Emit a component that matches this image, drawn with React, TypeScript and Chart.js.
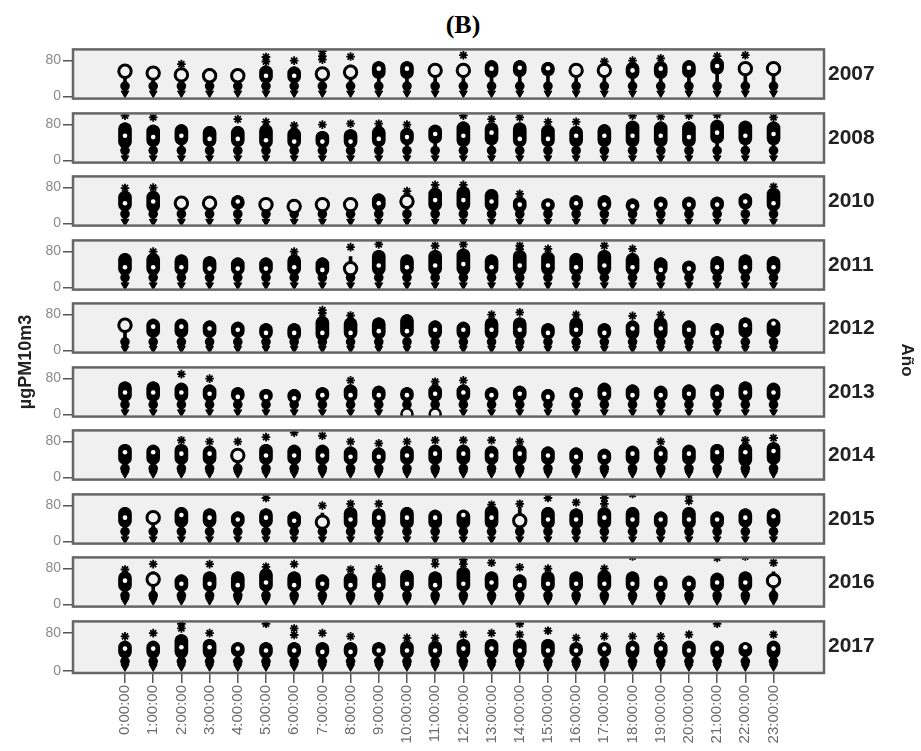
import React, { useEffect, useRef } from 'react';
import { Chart, registerables } from 'chart.js';

Chart.register(...registerables);

const hourLabels = ['0:00:00','1:00:00','2:00:00','3:00:00','4:00:00','5:00:00','6:00:00','7:00:00','8:00:00','9:00:00','10:00:00','11:00:00','12:00:00','13:00:00','14:00:00','15:00:00','16:00:00','17:00:00','18:00:00','19:00:00','20:00:00','21:00:00','22:00:00','23:00:00'];
const years = ['2007','2008','2010','2011','2012','2013','2014','2015','2016','2017'];
const yTicks = [0, 80];

// lower knob and lower tip of each column, per year
const knobs = [23,22,21,22,19,22,20,22,20,20];
const tips = [7,5,4,5,4,5,8,5,8,8];

const hi2007 = [68,64,60,62,58,68,66,62,70,78,78,70,70,80,80,76,70,70,76,78,80,86,74,74];
const lo2007 = [44,40,36,32,34,30,30,38,38,40,40,46,46,42,44,46,46,40,40,40,42,50,50,50];
const med2007 = [56,52,48,46,46,46,46,50,54,62,62,58,58,62,64,63,58,58,58,62,64,68,62,62];
const stars2007 = [[2,72],[5,78],[5,88],[6,80],[7,101],[7,90],[7,82],[8,89],[12,92],[17,78],[18,80],[19,85],[21,90],[22,92]];
const open2007 = [0,1,2,3,4,7,8,11,12,16,17,22,23];

const hi2008 = [84,79,80,76,76,80,72,65,69,76,72,79,86,84,84,79,76,80,88,86,86,90,88,86];
const lo2008 = [28,31,35,31,31,28,28,28,28,31,35,38,31,35,31,31,31,31,31,31,31,38,35,35];
const med2008 = [55,52,55,48,48,45,42,42,42,48,52,59,55,62,48,48,55,55,55,55,52,62,55,59];
const stars2008 = [[0,100],[1,96],[4,92],[5,86],[6,78],[7,80],[8,82],[9,82],[10,80],[12,100],[13,92],[14,96],[15,86],[16,86],[18,100],[19,98],[20,100],[21,102],[23,96]];
const open2008: number[] = [];

const hi2010 = [72,72,55,55,62,55,52,55,52,66,62,79,82,76,59,55,62,62,55,59,59,59,66,79];
const lo2010 = [28,25,35,35,32,32,32,32,32,28,32,28,28,28,25,28,28,28,25,28,28,28,32,28];
const med2010 = [45,49,45,45,49,42,38,42,42,45,49,52,52,49,42,42,45,42,38,42,42,42,49,45];
const stars2010 = [[0,79],[1,80],[10,72],[11,86],[12,86],[14,66],[23,82]];
const open2010 = [2,3,5,6,7,8,10];

const hi2011 = [76,76,73,69,66,66,73,66,69,83,73,83,86,73,83,79,76,83,76,66,59,69,73,69];
const lo2011 = [28,28,28,28,28,28,28,25,25,28,28,28,28,28,28,28,28,28,28,28,28,28,28,28];
const med2011 = [45,45,45,42,42,42,45,39,42,49,45,49,52,45,49,49,45,49,45,39,42,45,45,45];
const stars2011 = [[1,80],[6,80],[8,90],[9,96],[11,93],[12,96],[14,93],[14,85],[15,86],[17,93],[18,86]];
const open2011 = [8];

const hi2012 = [70,70,70,66,63,60,60,76,73,73,80,66,63,73,73,60,73,60,66,73,66,60,73,70];
const lo2012 = [29,29,29,29,29,26,22,22,26,26,29,26,26,26,26,26,29,26,26,26,26,26,29,29];
const med2012 = [56,53,53,49,46,39,39,39,39,43,43,46,46,46,46,39,46,39,49,49,46,39,56,60];
const stars2012 = [[7,90],[7,83],[8,78],[13,80],[14,85],[16,80],[18,77],[19,80]];
const open2012 = [0];

const hi2013 = [73,73,70,66,60,56,56,60,66,63,60,66,66,60,63,56,60,70,66,63,66,66,73,70];
const lo2013 = [29,29,29,29,29,29,26,29,29,29,29,29,29,29,29,26,29,29,29,29,29,29,29,29];
const med2013 = [49,49,49,46,39,39,36,43,43,43,43,46,49,43,46,39,43,46,43,43,46,46,49,49];
const stars2013 = [[2,90],[3,80],[8,76],[11,73],[12,76]];
const open2013: number[] = [];
const circles2013 = [[10,1],[11,1]];

const hi2014 = [74,72,74,70,63,74,72,72,68,66,70,72,72,70,72,68,66,63,70,70,72,74,76,78];
const lo2014 = [29,29,29,29,29,29,29,29,29,29,29,29,29,29,29,29,29,29,29,29,29,29,25,29];
const med2014 = [56,56,53,53,49,49,49,49,46,46,49,53,53,49,53,49,46,46,53,53,53,56,56,59];
const stars2014 = [[2,83],[3,80],[4,80],[5,90],[6,100],[7,93],[8,80],[9,76],[10,80],[11,83],[12,83],[13,83],[14,80],[19,80],[22,83],[23,88]];
const open2014 = [4];

const hi2015 = [76,66,76,73,66,73,66,63,76,73,76,70,70,80,76,76,73,76,76,66,76,66,73,73];
const lo2015 = [32,32,32,32,32,32,29,29,29,29,29,29,29,29,29,29,29,29,29,29,29,29,32,32];
const med2015 = [53,53,59,53,49,53,46,43,49,53,53,53,59,53,46,49,49,53,49,49,49,49,53,56];
const stars2015 = [[5,97],[7,80],[8,84],[9,84],[13,82],[14,84],[15,97],[16,87],[17,97],[17,84],[18,106],[20,104],[20,90]];
const open2015 = [1,7,14];

const hi2016 = [73,73,66,73,73,80,73,66,70,73,76,73,83,73,66,73,73,76,73,63,63,70,73,73];
const lo2016 = [29,29,29,29,26,29,29,29,29,29,29,29,29,29,29,29,29,29,29,29,29,29,29,29];
const med2016 = [53,56,46,46,43,49,43,46,43,43,46,43,46,49,43,46,46,46,46,46,46,49,49,53];
const stars2016 = [[0,78],[1,90],[3,90],[5,84],[6,90],[8,78],[9,80],[11,104],[11,90],[12,100],[12,90],[13,93],[14,83],[15,80],[17,80],[18,107],[21,104],[22,107],[23,93]];
const open2016 = [1,23];

const hi2017 = [63,63,77,67,60,60,60,60,60,60,63,63,67,67,67,67,60,60,63,63,63,63,60,63];
const lo2017 = [27,27,27,27,30,27,27,27,27,30,27,27,27,27,27,27,30,30,27,27,27,27,30,27];
const med2017 = [47,47,50,50,47,43,43,40,40,43,43,43,47,47,43,43,43,47,47,47,43,47,50,47];
const stars2017 = [[0,73],[1,80],[2,100],[2,90],[3,80],[5,100],[6,90],[6,76],[7,80],[8,73],[10,70],[11,70],[12,77],[13,80],[14,100],[14,77],[15,85],[16,70],[17,73],[18,73],[19,73],[20,77],[21,100],[23,77]];
const open2017: number[] = [];

const panels = [
  { hi: hi2007, lo: lo2007, med: med2007, stars: stars2007, open: open2007, circles: [] as number[][] },
  { hi: hi2008, lo: lo2008, med: med2008, stars: stars2008, open: open2008, circles: [] as number[][] },
  { hi: hi2010, lo: lo2010, med: med2010, stars: stars2010, open: open2010, circles: [] as number[][] },
  { hi: hi2011, lo: lo2011, med: med2011, stars: stars2011, open: open2011, circles: [] as number[][] },
  { hi: hi2012, lo: lo2012, med: med2012, stars: stars2012, open: open2012, circles: [] as number[][] },
  { hi: hi2013, lo: lo2013, med: med2013, stars: stars2013, open: open2013, circles: circles2013 },
  { hi: hi2014, lo: lo2014, med: med2014, stars: stars2014, open: open2014, circles: [] as number[][] },
  { hi: hi2015, lo: lo2015, med: med2015, stars: stars2015, open: open2015, circles: [] as number[][] },
  { hi: hi2016, lo: lo2016, med: med2016, stars: stars2016, open: open2016, circles: [] as number[][] },
  { hi: hi2017, lo: lo2017, med: med2017, stars: stars2017, open: open2017, circles: [] as number[][] },
];

const PANEL_TOP = 47;
const PANEL_PITCH = 63.5;
const PANEL_H = 54;
const AREA_LEFT = 73;
const AREA_RIGHT = 824;
const PAD = 8;
const X_AXIS_H = 76;

const framePlugin = {
  id: 'panelFrame',
  beforeDraw(chart: any) {
    const { ctx, chartArea: a } = chart;
    ctx.save();
    ctx.fillStyle = '#f0f0f0';
    ctx.fillRect(a.left, a.top, a.right - a.left, a.bottom - a.top);
    ctx.restore();
  },
  afterDraw(chart: any) {
    const { ctx, chartArea: a } = chart;
    ctx.save();
    ctx.strokeStyle = '#666';
    ctx.lineWidth = 2.5;
    ctx.strokeRect(a.left, a.top, a.right - a.left, a.bottom - a.top);
    ctx.restore();
  },
};

function Panel({ idx }: { idx: number }) {
  const ref = useRef<HTMLCanvasElement>(null);
  const showX = idx === years.length - 1;
  const top = Math.round(PANEL_TOP + PANEL_PITCH * idx) - PAD;
  const height = PANEL_H + PAD * 2 + (showX ? X_AXIS_H : 0);

  useEffect(() => {
    const p = panels[idx];
    const xs = hourLabels.map((_, i) => i);
    const closed = xs.filter((i) => !p.open.includes(i));
    const knob = knobs[idx];
    const tip = tips[idx];
    const black = '#000';
    const bg = '#f0f0f0';
    const chart = new Chart(ref.current as HTMLCanvasElement, {
      type: 'scatter',
      data: {
        datasets: [
          { type: 'bar', data: xs.map((i) => ({ x: i, y: [tip, p.hi[i]] })), backgroundColor: black, barThickness: 3, grouped: false, order: 7 } as any,
          { type: 'bar', data: closed.map((i) => ({ x: i, y: [p.lo[i], p.hi[i]] })), backgroundColor: black, barThickness: 13, borderRadius: 6.5, borderSkipped: false, grouped: false, order: 6 } as any,
          { type: 'scatter', data: xs.map((i) => ({ x: i, y: knob })), pointStyle: 'circle', pointRadius: 4.8, pointBackgroundColor: black, pointBorderWidth: 0, order: 5 },
          { type: 'scatter', data: xs.map((i) => ({ x: i, y: tip })), pointStyle: 'triangle', pointRotation: 180, pointRadius: 4.5, pointBackgroundColor: black, pointBorderColor: black, pointBorderWidth: 1, order: 5 },
          { type: 'scatter', data: closed.map((i) => ({ x: i, y: p.med[i] })), pointStyle: 'circle', pointRadius: 2.3, pointBackgroundColor: '#fff', pointBorderWidth: 0, order: 4 },
          { type: 'scatter', data: p.open.map((i) => ({ x: i, y: p.med[i] })), pointStyle: 'circle', pointRadius: 6.2, pointBackgroundColor: bg, pointBorderColor: black, pointBorderWidth: 3, order: 3 },
          { type: 'scatter', data: p.circles.map(([h, v]) => ({ x: h, y: v })), pointStyle: 'circle', pointRadius: 5.5, pointBackgroundColor: bg, pointBorderColor: black, pointBorderWidth: 2.5, order: 3 },
          { type: 'scatter', data: p.stars.map(([h, v]) => ({ x: h, y: v })), pointStyle: 'star', pointRadius: 4.3, pointBorderColor: black, pointBorderWidth: 1.8, order: 1 },
        ],
      },
      options: {
        animation: false,
        responsive: false,
        maintainAspectRatio: false,
        events: [],
        layout: { padding: { top: PAD, bottom: PAD, left: 0, right: 921 - AREA_RIGHT } },
        plugins: { legend: { display: false }, tooltip: { enabled: false } },
        scales: {
          x: {
            type: 'linear',
            min: -1.844,
            max: 24.79,
            offset: false,
            display: showX,
            afterBuildTicks: (s: any) => { s.ticks = hourLabels.map((_, i) => ({ value: i })); },
            afterFit: (s: any) => { s.height = showX ? X_AXIS_H : 0; },
            grid: { offset: false, drawOnChartArea: false, drawTicks: true, tickLength: 10, color: '#555', lineWidth: 1.5 },
            border: { display: false },
            ticks: {
              autoSkip: false,
              maxRotation: 90,
              minRotation: 90,
              padding: 2,
              color: '#6b6b6b',
              font: { family: '"Liberation Sans", Arial, sans-serif', size: 15 },
              callback: (v: any) => hourLabels[v as number] ?? '',
            },
          },
          y: {
            type: 'linear',
            min: -5,
            max: 105,
            afterBuildTicks: (s: any) => { s.ticks = yTicks.map((v) => ({ value: v })); },
            afterFit: (s: any) => { s.width = AREA_LEFT; },
            grid: { drawOnChartArea: false, drawTicks: true, tickLength: 10, color: '#555', lineWidth: 1.5 },
            border: { display: false },
            ticks: {
              padding: 2,
              color: '#8a8a8a',
              font: { family: '"Liberation Sans", Arial, sans-serif', size: 14 },
            },
          },
        },
      } as any,
      plugins: [framePlugin],
    });
    return () => chart.destroy();
  }, [idx]);

  return (
    <canvas
      ref={ref}
      width={921}
      height={height}
      style={{ position: 'absolute', left: 0, top, width: 921, height }}
    />
  );
}

export default function App() {
  return (
    <div style={{ position: 'absolute', left: 0, top: 0, width: 921, height: 751, background: '#fff', overflow: 'hidden' }}>
      <div style={{ position: 'absolute', left: 413, top: 10, width: 100, textAlign: 'center', font: 'bold 26px "Liberation Serif", "Times New Roman", serif', color: '#000' }}>(B)</div>
      {years.map((_, i) => <Panel key={i} idx={i} />)}
      {years.map((y, i) => (
        <div key={y} style={{ position: 'absolute', left: 828, top: Math.round(PANEL_TOP + PANEL_PITCH * i + PANEL_H / 2 - 13), height: 26, lineHeight: '26px', font: 'bold 21px "Liberation Sans", Arial, sans-serif', color: '#222' }}>{y}</div>
      ))}
      <div style={{ position: 'absolute', left: 27 - 100, top: 362 - 12, width: 200, height: 24, lineHeight: '24px', textAlign: 'center', transform: 'rotate(-90deg)', font: 'bold 18px "Liberation Sans", Arial, sans-serif', color: '#222' }}>µgPM10m3</div>
      <div style={{ position: 'absolute', left: 906 - 50, top: 360 - 11, width: 100, height: 22, lineHeight: '22px', textAlign: 'center', transform: 'rotate(90deg)', font: 'bold 17px "Liberation Sans", Arial, sans-serif', color: '#222' }}>Año</div>
    </div>
  );
}
